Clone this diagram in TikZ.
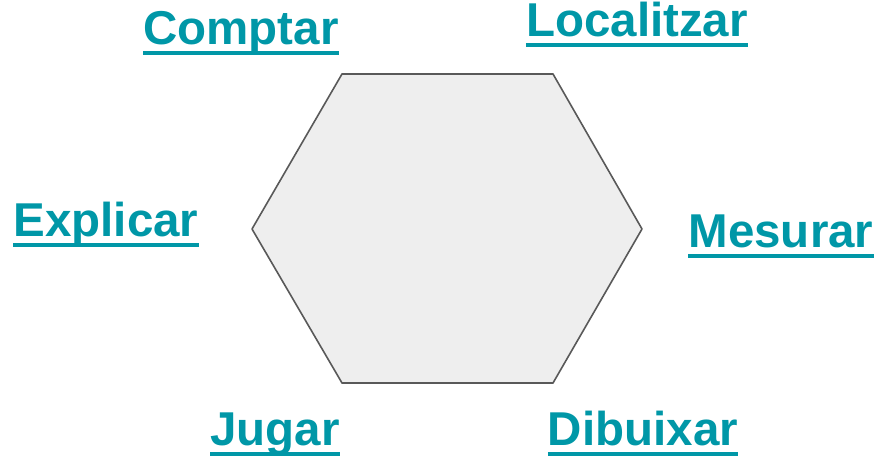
\documentclass[tikz,border=0pt]{standalone}
\usepackage{fontspec}
\setmainfont{Liberation Sans}
\usetikzlibrary{positioning}
\definecolor{linkteal}{HTML}{0097A7}
\definecolor{hexfill}{HTML}{EEEEEE}
\definecolor{hexline}{HTML}{595959}

\begin{document}
\begin{tikzpicture}[
 x=1pt,y=1pt,
 verb/.style={font=\fontsize{47.5}{56}\selectfont\bfseries,text=linkteal,inner sep=0pt,anchor=base},
 uline/.style={draw=linkteal,line width=3.2pt},
 hex/.style={draw=hexline,fill=hexfill,line width=1.6pt,line join=round}
]
\useasboundingbox (0,0) rectangle (876,460);
% central shape
\draw[hex] (252,231) -- (342,386) -- (553,386) -- (642,231) -- (553,77) -- (342,77) -- cycle;
% the six verbs
\node[verb] (comptar) at (241,415) {Comptar};
\node[verb] (localitzar) at (637,423) {Localitzar};
\node[verb] (explicar) at (106,223) {Explicar};
\node[verb] (mesurar) at (781,212) {Mesurar};
\node[verb] (jugar) at (275,14) {Jugar};
\node[verb] (dibuixar) at (643,14) {Dibuixar};
% underlines
\foreach \n in {comptar,localitzar,explicar,mesurar,jugar,dibuixar}
  \draw[uline] ([yshift=-8pt]\n.base west) -- ([yshift=-8pt]\n.base east);
\end{tikzpicture}
\end{document}
